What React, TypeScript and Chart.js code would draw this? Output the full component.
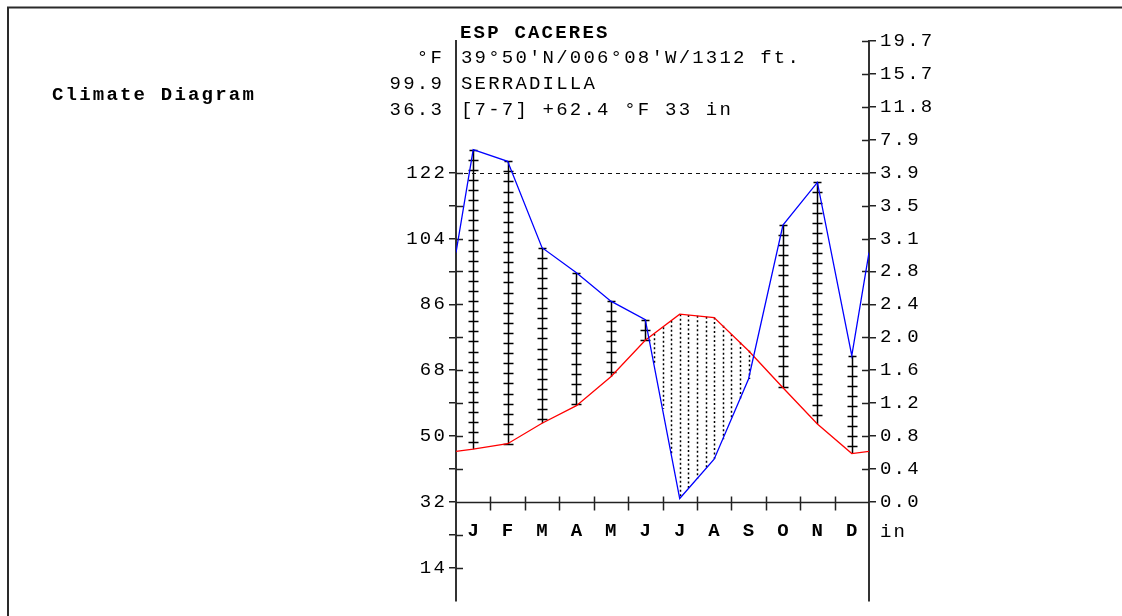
import React, { useEffect, useRef } from 'react';
import { Chart, registerables } from 'chart.js';

Chart.register(...registerables);

// ---- data ----
const MONTHS = ['J', 'F', 'M', 'A', 'M', 'J', 'J', 'A', 'S', 'O', 'N', 'D'];
const TEMP_F = [46.4, 47.9, 53.5, 58.3, 66.2, 76.2, 83.3, 82.4, 73.3, 63.2, 53.3, 45.2];
const PRECIP_IN = [6.69, 5.29, 3.04, 2.74, 2.4, 2.18, 0.04, 0.51, 1.47, 3.31, 3.82, 1.75];
const LEFT_TICKS = [14, 23, 32, 41, 50, 59, 68, 77, 86, 95, 104, 113, 122];
const LEFT_LABELS = [14, 32, 50, 68, 86, 104, 122];
const RIGHT_TICKS = [32, 41, 50, 59, 68, 77, 86, 95, 104, 113, 122, 131, 140, 149, 158];
const RIGHT_LABELS = ['0.0', '0.4', '0.8', '1.2', '1.6', '2.0', '2.4', '2.8', '3.1', '3.5', '3.9', '7.9', '11.8', '15.7', '19.7'];
const TITLE = 'ESP CACERES';
const INFO_LEFT = ['°F', '99.9', '36.3'];
const INFO_RIGHT = ["39°50'N/006°08'W/1312 ft.", 'SERRADILLA', '[7-7] +62.4 °F 33 in'];
const SIDE_TITLE = 'Climate Diagram';
const UNIT_RIGHT = 'in';
const Y_MIN = 5;
const Y_MAX = 158;
const WET_LEVEL = 122; // 100 mm line

// Walter-Lieth: 0..100 mm -> 32..122 °F-equivalent, above 100 mm compressed 10x
const toEq = (inch: number) => {
  const mm = inch * 25.4;
  return mm <= 100 ? 32 + 0.9 * mm : 122 + 0.09 * (mm - 100);
};

const precipEq = PRECIP_IN.map(toEq);
const edgeT = (TEMP_F[0] + TEMP_F[11]) / 2;
const edgeP = (precipEq[0] + precipEq[11]) / 2;
const tempPts = [{ x: 0, y: edgeT }, ...TEMP_F.map((v, i) => ({ x: i + 0.5, y: v })), { x: 12, y: edgeT }];
const precPts = [{ x: 0, y: edgeP }, ...precipEq.map((v, i) => ({ x: i + 0.5, y: v })), { x: 12, y: edgeP }];

const interp = (pts: { x: number; y: number }[], x: number) => {
  for (let i = 0; i < pts.length - 1; i++) {
    const a = pts[i], b = pts[i + 1];
    if (x >= a.x && x <= b.x) return a.y + ((b.y - a.y) * (x - a.x)) / (b.x - a.x);
  }
  return pts[pts.length - 1].y;
};

const FONT = '"Liberation Mono", "Courier New", monospace';
const FSIZE = 19;
const SPACING = '2.2px';

const climatePlugin = {
  id: 'climate',
  beforeDraw(chart: any) {
    const ctx = chart.ctx;
    ctx.letterSpacing = SPACING;
    ctx.save();
    ctx.strokeStyle = '#2a2a2a';
    ctx.lineWidth = 2;
    ctx.beginPath();
    ctx.moveTo(8, chart.height);
    ctx.lineTo(8, 7.5);
    ctx.lineTo(chart.width, 7.5);
    ctx.stroke();
    ctx.restore();
  },
  beforeDatasetsDraw(chart: any) {
    const ctx = chart.ctx;
    const xs = chart.scales.x;
    const ys = chart.scales.y;
    const left = chart.chartArea.left;
    const right = chart.chartArea.right;

    // arid period: dotted vertical lines every quarter month
    ctx.save();
    ctx.strokeStyle = '#000';
    ctx.lineWidth = 1.5;
    ctx.setLineDash([2, 2.5]);
    for (let k = 0; k <= 48; k++) {
      const xv = k / 4;
      const t = interp(tempPts, xv);
      const p = interp(precPts, xv);
      if (p < t) {
        const px = Math.round(xs.getPixelForValue(xv)) + 0.5;
        ctx.beginPath();
        ctx.moveTo(px, ys.getPixelForValue(t));
        ctx.lineTo(px, ys.getPixelForValue(p));
        ctx.stroke();
      }
    }
    ctx.restore();

    // humid months: bars with cross ticks
    ctx.save();
    ctx.strokeStyle = '#000';
    ctx.lineWidth = 1.5;
    TEMP_F.forEach((t, i) => {
      const p = precipEq[i];
      if (p <= t) return;
      const px = Math.round(xs.getPixelForValue(i + 0.5)) + 0.5;
      const yTop = ys.getPixelForValue(p);
      const yBot = ys.getPixelForValue(t);
      ctx.beginPath();
      ctx.moveTo(px, yTop);
      ctx.lineTo(px, yBot);
      ctx.moveTo(px - 4, Math.round(yTop) + 0.5);
      ctx.lineTo(px + 4, Math.round(yTop) + 0.5);
      for (let y = yTop + 10; y <= yBot + 0.5; y += 10.1) {
        const yy = Math.round(y) + 0.5;
        ctx.moveTo(px - 5, yy);
        ctx.lineTo(px + 5, yy);
      }
      ctx.stroke();
    });
    ctx.restore();

    // 100 mm dashed line
    ctx.save();
    ctx.strokeStyle = '#111';
    ctx.lineWidth = 1;
    ctx.setLineDash([4, 4]);
    const yw = Math.round(ys.getPixelForValue(WET_LEVEL)) + 0.5;
    ctx.beginPath();
    ctx.moveTo(left, yw);
    ctx.lineTo(right, yw);
    ctx.stroke();
    ctx.restore();

    // month axis at 32 °F
    ctx.save();
    ctx.strokeStyle = '#222';
    ctx.lineWidth = 1.5;
    const ya = Math.round(ys.getPixelForValue(32)) + 0.5;
    ctx.beginPath();
    ctx.moveTo(left, ya);
    ctx.lineTo(right, ya);
    for (let k = 1; k < 12; k++) {
      const px = Math.round(xs.getPixelForValue(k)) + 0.5;
      ctx.moveTo(px, ya - 6);
      ctx.lineTo(px, ya + 8);
    }
    // inner halves of axis ticks
    LEFT_TICKS.forEach((v) => {
      const y = Math.round(ys.getPixelForValue(v)) + 0.5;
      ctx.moveTo(left, y);
      ctx.lineTo(left + 7, y);
    });
    RIGHT_TICKS.forEach((v) => {
      const y = Math.round(ys.getPixelForValue(v)) + 0.5;
      ctx.moveTo(right - 7, y);
      ctx.lineTo(right, y);
    });
    ctx.stroke();
    ctx.fillStyle = '#000';
    ctx.textBaseline = 'middle';
    ctx.font = `bold ${FSIZE}px ${FONT}`;
    ctx.textAlign = 'center';
    MONTHS.forEach((m, i) => {
      ctx.fillText(m, xs.getPixelForValue(i + 0.5) + 1, ya + 29);
    });
    ctx.font = `${FSIZE}px ${FONT}`;
    ctx.textAlign = 'left';
    ctx.fillText(UNIT_RIGHT, right + 11, ya + 29);
    ctx.restore();
  },
  afterDraw(chart: any) {
    const ctx = chart.ctx;
    const left = chart.chartArea.left;
    ctx.save();
    ctx.fillStyle = '#000';
    ctx.textBaseline = 'middle';
    ctx.font = `bold ${FSIZE}px ${FONT}`;
    ctx.textAlign = 'left';
    ctx.fillText(TITLE, left + 4, 33);
    ctx.fillText(SIDE_TITLE, 52, 95);
    ctx.font = `${FSIZE}px ${FONT}`;
    INFO_RIGHT.forEach((s, i) => ctx.fillText(s, left + 5, 58 + i * 26));
    ctx.textAlign = 'right';
    INFO_LEFT.forEach((s, i) => ctx.fillText(s, left - 12, 58 + i * 26));
    ctx.restore();
  },
};

export default function App() {
  const canvasRef = useRef<HTMLCanvasElement | null>(null);

  useEffect(() => {
    const canvas = canvasRef.current;
    if (!canvas) return;
    const chart = new Chart(canvas, {
      type: 'line',
      data: {
        datasets: [
          {
            label: 'Precipitation',
            data: precPts,
            borderColor: '#0000ff',
            borderWidth: 1.3,
            pointRadius: 0,
            tension: 0,
            yAxisID: 'y',
          },
          {
            label: 'Temperature',
            data: tempPts,
            borderColor: '#ff0000',
            borderWidth: 1.3,
            pointRadius: 0,
            tension: 0,
            yAxisID: 'y',
          },
        ],
      },
      options: {
        animation: false,
        responsive: false,
        devicePixelRatio: 1,
        layout: { padding: { top: 41, bottom: 15, left: 0, right: 0 } },
        plugins: { legend: { display: false }, title: { display: false }, tooltip: { enabled: false } },
        scales: {
          x: { type: 'linear', min: 0, max: 12, display: false },
          y: {
            type: 'linear',
            position: 'left',
            min: Y_MIN,
            max: Y_MAX,
            afterFit: (s: any) => { s.width = 456; },
            afterBuildTicks: (s: any) => { s.ticks = LEFT_TICKS.map((v) => ({ value: v })); },
            border: { display: true, color: '#333', width: 2 },
            grid: { drawOnChartArea: false, drawTicks: true, tickLength: 7, color: '#222', lineWidth: 1.5 },
            ticks: {
              autoSkip: false,
              padding: 2,
              color: '#000',
              font: { family: FONT, size: FSIZE },
              callback: (v: any) => (LEFT_LABELS.includes(Number(v)) ? String(v) : ''),
            },
          },
          y2: {
            type: 'linear',
            position: 'right',
            min: Y_MIN,
            max: Y_MAX,
            afterFit: (s: any) => { s.width = 1122 - 869; },
            afterBuildTicks: (s: any) => { s.ticks = RIGHT_TICKS.map((v) => ({ value: v })); },
            border: { display: true, color: '#333', width: 2 },
            grid: { drawOnChartArea: false, drawTicks: true, tickLength: 7, color: '#222', lineWidth: 1.5 },
            ticks: {
              autoSkip: false,
              padding: 4,
              color: '#000',
              font: { family: FONT, size: FSIZE },
              callback: (_v: any, i: number) => RIGHT_LABELS[i] ?? '',
            },
          },
        },
      },
      plugins: [climatePlugin],
    } as any);
    return () => chart.destroy();
  }, []);

  return (
    <canvas
      ref={canvasRef}
      width={1122}
      height={616}
      style={{ position: 'fixed', left: 0, top: 0, width: 1122, height: 616, background: '#fff' }}
    />
  );
}
